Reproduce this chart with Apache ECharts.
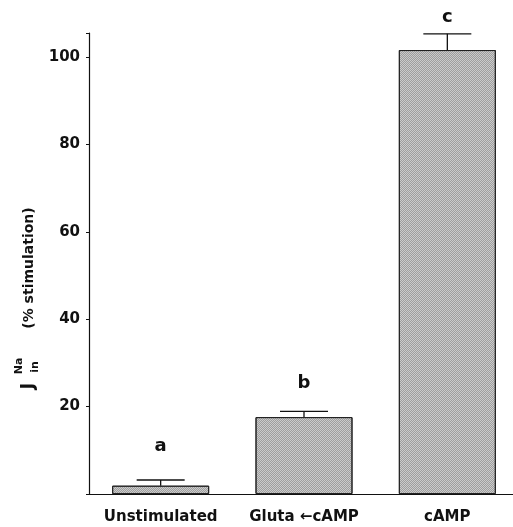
<!DOCTYPE html>
<html>
<head>
<meta charset="utf-8">
<script src="https://cdn.jsdelivr.net/npm/echarts@6/dist/echarts.min.js"></script>
<style>
  html, body { margin: 0; padding: 0; background: #fff; }
  #chart { width: 513px; height: 527px; }
</style>
</head>
<body>
<div id="chart"></div>
<script>
  // data
  var categories = ['Unstimulated', 'Gluta \u2190cAMP', 'cAMP'];
  var meanValues = [1.9, 17.6, 101.6];
  var errorValues = [1.3, 1.3, 3.7];
  var groupLetters = ['a', 'b', 'c'];
  var letterHeights = [10.8, 25.4, 109];
  var yTicks = [20, 40, 60, 80, 100];

  var font = 'DejaVu Sans';
  var chart = echarts.init(document.getElementById('chart'));

  var errData = meanValues.map(function (v, i) { return [i, v, errorValues[i]]; });
  var letterData = letterHeights.map(function (v, i) { return [i, v, groupLetters[i]]; });

  chart.setOption({
    animation: false,
    grid: { left: 89, top: 33, width: 430, bottom: 33, outerBoundsMode: 'none' },
    xAxis: {
      type: 'category',
      data: categories,
      axisLine: { lineStyle: { color: '#111', width: 1.2 } },
      axisTick: { show: false },
      axisLabel: {
        interval: 0,
        color: '#111', fontFamily: font, fontWeight: 'bold', fontSize: 15,
        margin: 16
      }
    },
    yAxis: {
      type: 'value',
      min: 0,
      max: 105.5,
      interval: 20,
      splitLine: { show: false },
      axisLine: { show: true, lineStyle: { color: '#111', width: 1.2 } },
      axisTick: { show: true, length: 3, lineStyle: { color: '#111' } },
      axisLabel: {
        color: '#111', fontFamily: font, fontWeight: 'bold', fontSize: 15, margin: 9,
        formatter: function (v) { return yTicks.indexOf(v) >= 0 ? String(v) : ''; }
      }
    },
    series: [
      {
        type: 'bar',
        data: meanValues,
        barWidth: 97,
        itemStyle: {
          color: '#cbcbcb', borderColor: '#222', borderWidth: 1,
          decal: {
            symbol: 'rect', symbolSize: 1,
            dashArrayX: [[1, 1], [0, 1, 1, 0]], dashArrayY: [1, 0],
            color: 'rgba(0,0,0,0.22)'
          }
        }
      },
      {
        type: 'custom',
        data: errData,
        z: 5,
        renderItem: function (params, api) {
          var base = api.coord([api.value(0), api.value(1)]);
          var top = api.coord([api.value(0), api.value(1) + api.value(2)]);
          var half = 24;
          var st = { stroke: '#111', lineWidth: 1.3 };
          return {
            type: 'group',
            children: [
              { type: 'line', shape: { x1: base[0], y1: base[1], x2: top[0], y2: top[1] }, style: st },
              { type: 'line', shape: { x1: top[0] - half, y1: top[1], x2: top[0] + half, y2: top[1] }, style: st }
            ]
          };
        }
      },
      {
        type: 'custom',
        data: letterData,
        renderItem: function (params, api) {
          var p = api.coord([api.value(0), api.value(1)]);
          return {
            type: 'text',
            x: p[0], y: p[1],
            style: {
              text: groupLetters[params.dataIndex],
              fill: '#111', font: 'bold 18px ' + font,
              textAlign: 'center', textVerticalAlign: 'middle'
            }
          };
        }
      }
    ],
    graphic: [
      {
        type: 'text', x: 29, y: 268, rotation: Math.PI / 2,
        style: { text: '(% stimulation)', fill: '#111', font: 'bold 14px ' + font, textAlign: 'center', textVerticalAlign: 'middle' }
      },
      {
        type: 'text', x: 29, y: 386, rotation: Math.PI / 2,
        style: { text: 'J', fill: '#111', font: 'bold 17px ' + font, textAlign: 'center', textVerticalAlign: 'middle' }
      },
      {
        type: 'text', x: 19, y: 366, rotation: Math.PI / 2,
        style: { text: 'Na', fill: '#111', font: 'bold 11px ' + font, textAlign: 'center', textVerticalAlign: 'middle' }
      },
      {
        type: 'text', x: 35, y: 367, rotation: Math.PI / 2,
        style: { text: 'in', fill: '#111', font: 'bold 11px ' + font, textAlign: 'center', textVerticalAlign: 'middle' }
      }
    ]
  });
</script>
</body>
</html>
